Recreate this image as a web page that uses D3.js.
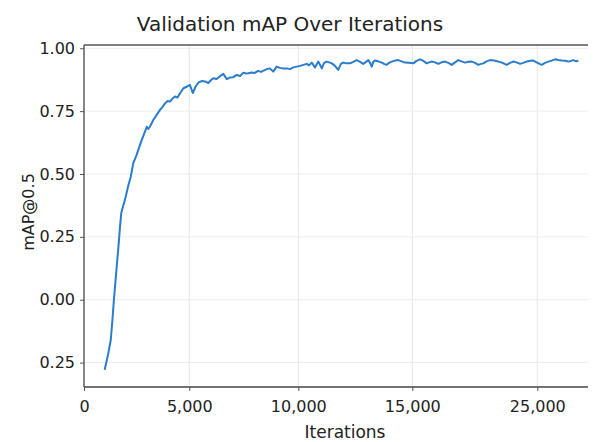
<!DOCTYPE html>
<html>
<head>
<meta charset="utf-8">
<script src="https://cdn.jsdelivr.net/npm/d3@7"></script>
<style>
  html, body { margin: 0; padding: 0; background: #fff; }
  svg { display: block; font-family: "DejaVu Sans", sans-serif; }
</style>
</head>
<body>
<svg id="chart" width="594" height="442"></svg>
<script>
// ---- data ----
const iterations = [
  980, 1140, 1270, 1350, 1420, 1500, 1580, 1650, 1710, 1770, 1820, 1900, 1980, 2090, 2220, 2340,
  2500, 2610, 2740, 2850, 2980, 3050, 3130, 3290, 3450, 3610, 3730, 3850, 3970, 4080, 4200, 4320,
  4440, 4560, 4720, 4880, 5030, 5160, 5280, 5410, 5580, 5720, 5870, 6000, 6100, 6250, 6410, 6560,
  6720, 6870, 7020, 7170, 7330, 7480, 7600, 7710, 7850, 8010, 8150, 8290, 8430, 8550, 8700, 8850,
  9010, 9160, 9310, 9470, 9620, 9770, 9930, 10080, 10220, 10370, 10470, 10590, 10730, 10880, 11030,
  11130, 11250, 11350, 11470, 11610, 11750, 11870, 11970, 12110, 12270, 12410, 12560, 12710, 12850,
  12970, 13070, 13150, 13220, 13290, 13360, 13500, 13660, 13760, 13880, 13980, 14100, 14240, 14390,
  14530, 14680, 14860, 15080, 15340, 15620, 15880, 16150, 16340, 16550, 16820, 17080, 17340, 17620,
  17880, 18150, 18420, 18680, 18940, 19220, 19480, 19750, 20020, 20280, 20500, 20680, 20940, 21220,
  21540, 21880, 22220, 22550, 22820, 23080, 23340, 23620, 23880, 24150, 24420, 24680, 25020, 25350,
  25620, 25880, 26140, 26420, 26680, 26950, 27220, 27480, 27700, 27880, 28100, 28280
];
const mapValues = [
  -0.279, -0.219, -0.160, -0.080, -0.001, 0.079, 0.158, 0.226, 0.291, 0.345, 0.361, 0.385, 0.410, 0.449, 0.489, 0.543,
  0.576, 0.604, 0.635, 0.659, 0.688, 0.679, 0.688, 0.715, 0.735, 0.755, 0.767, 0.781, 0.790, 0.788, 0.800, 0.808,
  0.804, 0.821, 0.841, 0.847, 0.854, 0.822, 0.846, 0.863, 0.870, 0.868, 0.862, 0.874, 0.881, 0.878, 0.889, 0.898,
  0.877, 0.884, 0.885, 0.894, 0.890, 0.903, 0.900, 0.901, 0.904, 0.902, 0.910, 0.906, 0.912, 0.917, 0.920, 0.907,
  0.927, 0.922, 0.920, 0.920, 0.917, 0.924, 0.927, 0.930, 0.934, 0.938, 0.932, 0.943, 0.924, 0.947, 0.920,
  0.942, 0.947, 0.944, 0.940, 0.930, 0.914, 0.938, 0.943, 0.940, 0.940, 0.946, 0.953, 0.946, 0.938,
  0.946, 0.953, 0.942, 0.927, 0.946, 0.951, 0.948, 0.943, 0.938, 0.934, 0.942, 0.947, 0.951, 0.953,
  0.948, 0.943, 0.942, 0.940, 0.950, 0.956, 0.950, 0.940, 0.944, 0.947, 0.944, 0.938, 0.944, 0.947,
  0.942, 0.934, 0.944, 0.953, 0.948, 0.943, 0.946, 0.947, 0.942, 0.934, 0.938, 0.940, 0.948, 0.953,
  0.951, 0.947, 0.942, 0.934, 0.942, 0.947, 0.944, 0.938, 0.942, 0.947, 0.950, 0.951, 0.942, 0.934,
  0.942, 0.947, 0.951, 0.956, 0.953, 0.951, 0.950, 0.947, 0.950, 0.953, 0.948, 0.950
];
const xTickValues = [0, 5000, 10000, 15000, 25000];
const xTickLabels = ["0", "5,000", "10,000", "15,000", "25,000"];
const yTickValues = [-0.25, 0, 0.25, 0.5, 0.75, 1.0];
const yTickLabels = ["0.25", "0.00", "0.25", "0.50", "0.75", "1.00"];
const titleText = "Validation mAP Over Iterations";
const xLabelText = "Iterations";
const yLabelText = "mAP@0.5";

// ---- layout ----
const svg = d3.select("#chart");
const pLeft = 84, pRight = 588, pTop = 45, pBottom = 387;

// the reference axis is unevenly spaced between its labelled ticks
const x = d3.scaleLinear()
  .domain([0, 5000, 10000, 15000, 25000, 29050])
  .range([pLeft, 189.3, 298.3, 412.3, 537.3, pRight]);
const y = d3.scaleLinear()
  .domain([-0.347, 1.013])
  .range([pBottom, pTop]);

const data = iterations.map((it, i) => ({ it, v: mapValues[i] }));

// grid
const grid = svg.append("g");
grid.selectAll("line.gx").data(xTickValues.filter(d => d > 0)).join("line")
  .attr("x1", d => x(d)).attr("x2", d => x(d))
  .attr("y1", pTop).attr("y2", pBottom)
  .attr("stroke", "#e6e6e6").attr("stroke-width", 1);
grid.selectAll("line.gy").data(yTickValues).join("line")
  .attr("x1", pLeft).attr("x2", pRight)
  .attr("y1", d => y(d)).attr("y2", d => y(d))
  .attr("stroke", "#ececec").attr("stroke-width", 1);

// line
svg.append("path")
  .datum(data)
  .attr("fill", "none")
  .attr("stroke", "#2a7ccc")
  .attr("stroke-width", 2)
  .attr("stroke-linejoin", "round")
  .attr("d", d3.line().x(d => x(d.it)).y(d => y(d.v)));

// axes
const xAxis = d3.axisBottom(x).tickValues(xTickValues)
  .tickFormat((d, i) => xTickLabels[i]).tickSize(4).tickPadding(10).tickSizeOuter(0);
const gx = svg.append("g").attr("transform", `translate(0,${pBottom})`).call(xAxis);
const yAxis = d3.axisLeft(y).tickValues(yTickValues)
  .tickFormat((d, i) => yTickLabels[i]).tickSize(4).tickPadding(5).tickSizeOuter(0);
const gy = svg.append("g").attr("transform", `translate(${pLeft},0)`).call(yAxis);

[gx, gy].forEach(g => {
  g.select(".domain").remove();
  g.selectAll(".tick line").attr("stroke", "#555").attr("stroke-width", 1);
  g.selectAll(".tick text").attr("fill", "#222").style("font-size", "16px")
    .style("font-family", "'DejaVu Sans', sans-serif");
});

// spines (left, bottom, top)
svg.append("line").attr("x1", pLeft).attr("x2", pLeft).attr("y1", pTop).attr("y2", pBottom)
  .attr("stroke", "#444").attr("stroke-width", 1.3);
svg.append("line").attr("x1", pLeft).attr("x2", pRight).attr("y1", pBottom).attr("y2", pBottom)
  .attr("stroke", "#444").attr("stroke-width", 1.3);
svg.append("line").attr("x1", pLeft).attr("x2", pRight).attr("y1", pTop).attr("y2", pTop)
  .attr("stroke", "#555").attr("stroke-width", 1.6);

// labels
svg.append("text").attr("x", 290).attr("y", 31).attr("text-anchor", "middle")
  .attr("fill", "#222").style("font-size", "20px").text(titleText);
svg.append("text").attr("x", 345).attr("y", 438).attr("text-anchor", "middle")
  .attr("fill", "#222").style("font-size", "17px").text(xLabelText);
svg.append("text").attr("transform", "translate(34,212) rotate(-90)").attr("text-anchor", "middle")
  .attr("fill", "#222").style("font-size", "16px").text(yLabelText);
</script>
</body>
</html>
